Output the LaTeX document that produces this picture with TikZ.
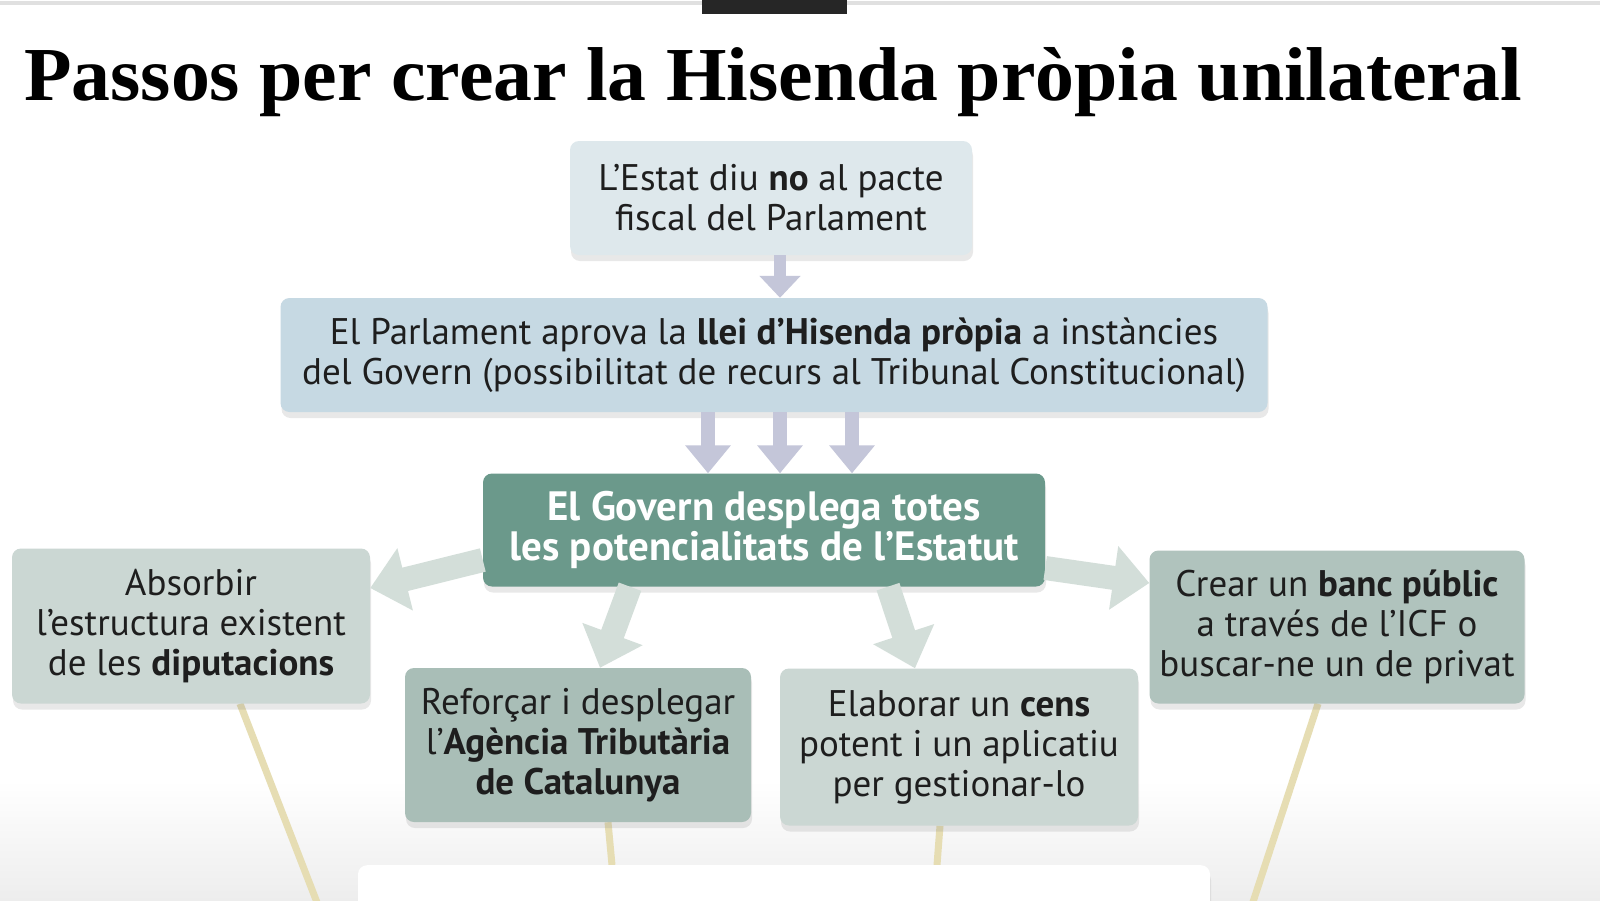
\documentclass[tikz,border=0pt]{standalone}
\usepackage{graphicx}
\usepackage{fontspec}
\setmainfont{PT Sans}
\newfontfamily\titlefont{Liberation Serif}
\usetikzlibrary{arrows.meta,shadows,backgrounds}

\definecolor{ink}{HTML}{1E1E1E}
\definecolor{estatcol}{HTML}{DEE8EC}
\definecolor{parlcol}{HTML}{C6D9E3}
\definecolor{govcol}{HTML}{6B998B}
\definecolor{palecol}{HTML}{CBD7D3}
\definecolor{darkcol}{HTML}{A9BEB7}
\definecolor{lavcol}{HTML}{C4C6D9}
\definecolor{sagecol}{HTML}{D3DED9}
\definecolor{polecol}{HTML}{E6DDB3}

\begin{document}
\begin{tikzpicture}[x=1pt, y=-1pt,
    box/.style={rounded corners=9pt, align=center, text=ink, inner sep=0pt,
      font=\fontsize{37}{40}\selectfont,
      drop shadow={shadow xshift=1pt, shadow yshift=-6pt, opacity=0.18}},
    down/.style={line width=14pt, draw=lavcol, -{Triangle[width=44pt, length=28pt]}},
    side/.style={line width=24pt, draw=sagecol, -{Triangle[width=62pt, length=36pt]}},
    pole/.style={line width=7pt, draw=polecol}]
  \useasboundingbox (0,0) rectangle (1600,900);
  \clip (0,0) rectangle (1600,900);

  % header
  \fill[black!12] (0,1) rectangle (1600,5);
  \fill[black!85] (702,0) rectangle (847,14);
  \node[anchor=base, inner sep=0pt] (title) at (773,100)
    {\resizebox{1497pt}{53pt}{\titlefont\bfseries Passos per crear la Hisenda pròpia unilateral}};

  % steps
  \node[box, fill=estatcol, minimum width=402pt, minimum height=114pt] (estat) at (771,198)
    {L’Estat diu \textbf{no} al pacte\\fiscal del Parlament};
  \node[box, fill=parlcol, minimum width=987pt, minimum height=114pt] (parl) at (774,355)
    {El Parlament aprova la \textbf{llei d’Hisenda pròpia} a instàncies\\del Govern (possibilitat de recurs al Tribunal Constitucional)};
  \node[box, fill=govcol, text=white, minimum width=562pt, minimum height=113pt,
    font=\fontsize{41}{40}\selectfont\bfseries] (gov) at (764,530)
    {El Govern desplega totes\\les potencialitats de l’Estatut};
  \node[box, fill=palecol, minimum width=358pt, minimum height=155pt] (absorb) at (191,626)
    {Absorbir\\l’estructura existent\\de les \textbf{diputacions}};
  \node[box, fill=darkcol, minimum width=346pt, minimum height=154pt] (agencia) at (578,745)
    {Reforçar i desplegar\\l’\textbf{Agència Tributària}\\\textbf{de Catalunya}};
  \node[box, fill=palecol, minimum width=358pt, minimum height=157pt] (elabor) at (959,747)
    {Elaborar un \textbf{cens}\\potent i un aplicatiu\\per gestionar-lo};
  \node[box, fill=darkcol!80!palecol, minimum width=375pt, minimum height=153pt] (banc) at (1337,627)
    {Crear un \textbf{banc públic}\\a través de l’ICF o\\buscar-ne un de privat};
  \node[box, fill=white, minimum width=852pt, minimum height=100pt, anchor=north] (foot) at (784,865) {};

  \coordinate (lfoot) at (318,905);
  \coordinate (rfoot) at (1252,905);

  % poles behind the boxes
  \begin{scope}[on background layer]
    \fill[white] (0,0) rectangle (1600,900);
    \shade[top color=white, bottom color=black!7] (0,780) rectangle (1600,900);
    \draw[pole] ([xshift=49pt]absorb.south) -- (lfoot);
    \draw[pole] ([xshift=-19pt]banc.south) -- (rfoot);
    \draw[pole] ([xshift=30pt]agencia.south) -- ([xshift=-172pt]foot.north);
    \draw[pole] ([xshift=-19pt]elabor.south) -- ([xshift=153pt]foot.north);
  \end{scope}

  % arrows
  \draw[down, line width=12pt, -{Triangle[width=40pt, length=22pt]}]
    ([xshift=9pt]estat.south) -- ([xshift=9pt]estat.south |- parl.north);
  \foreach \dx in {-66, 6, 78}
  {
    \draw[down] ([xshift=\dx pt]parl.south) -- ([xshift=\dx pt]parl.south |- gov.north);
  }
  \draw[side] ([yshift=-30pt]gov.west) -- ([yshift=38pt]absorb.east);
  \draw[side] ([yshift=-38pt]gov.east) -- ([yshift=44pt]banc.west);
  \draw[side] ([xshift=-134pt]gov.south) -- ([xshift=22pt]agencia.north);
  \draw[side] ([xshift=124pt]gov.south) -- ([xshift=-44pt]elabor.north);
\end{tikzpicture}
\end{document}
